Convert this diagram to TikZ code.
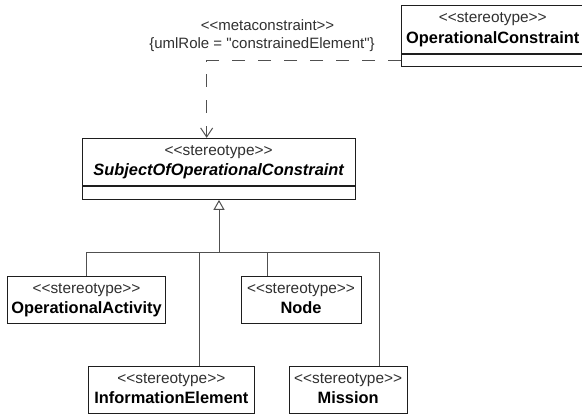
\documentclass[tikz,border=0pt]{standalone}
\usepackage{fontspec}
\setmainfont{Liberation Sans}[Ligatures=TeXOff]
\usepackage{tikz}
\usetikzlibrary{arrows.meta,calc,positioning}
\definecolor{umlink}{HTML}{1E1E1E}
\definecolor{umlline}{HTML}{505050}
\definecolor{umlstereo}{HTML}{303030}
\newcommand{\stereo}[1]{{\color{umlstereo}\fontsize{15.4}{20.5}\selectfont <{}<#1>{}>}}
\newcommand{\umlname}[1]{{\bfseries\fontsize{16.4}{20.5}\selectfont\vphantom{Oy}#1}}

\begin{document}
\begin{tikzpicture}[x=1pt,y=-1pt,
  umlbox/.style={draw=umlink,line width=1pt,fill=white,inner sep=0pt,
    minimum height=47.5pt,align=center,font=\fontsize{15}{20.5}\selectfont},
  umlbar/.style={draw=umlink,line width=1pt,fill=white,inner sep=0pt,
    minimum height=12.5pt},
  genflow/.style={draw=umlline,line width=1pt},
  genhead/.style={genflow,-{Triangle[open,length=10pt,width=11pt]}},
  metaflow/.style={draw=umlline,line width=1pt,dash pattern=on 13pt off 13pt,
    -{Straight Barb[length=9pt,width=12pt]}},
  umllabel/.style={inner sep=0pt,text=umlstereo,font=\fontsize{15}{18}\selectfont}
]
  \useasboundingbox (0,0) rectangle (582,415);

  % constraint stereotype, top right
  \node[umlbox,minimum width=182.5pt] (opcon) at (492.75,29.65)
    {\stereo{stereotype}\\\umlname{OperationalConstraint}};
  \node[umlbar,minimum width=182.5pt,below=0pt of opcon] (opconbar) {};

  % constrained subject
  \node[umlbox,minimum width=272.7pt] (subj) at (218.65,162.1)
    {\stereo{stereotype}\\\umlname{\itshape SubjectOfOperationalConstraint}};
  \node[umlbar,minimum width=272.7pt,below=0pt of subj] (subjbar) {};

  % metaconstraint labels
  \node[umllabel] (metalabel) at (267.5,25) {<{}<metaconstraint>{}>};
  \node[umllabel] (rolelabel) at (262,44.3)
    {\{umlRole = "constrainedElement"\}};
  \draw[metaflow] (opconbar.west) -| ([xshift=-12pt]subj.north);

  % specialisations
  \node[umlbox,minimum width=158.4pt] (activity) at (86.5,300)
    {\stereo{stereotype}\\\umlname{OperationalActivity}};
  \node[umlbox,minimum width=120pt] (noderole) at (301,300)
    {\stereo{stereotype}\\\umlname{Node}};
  \node[umlbox,minimum width=166.7pt,minimum height=46.6pt] (infoel)
    at (171.35,390) {\stereo{stereotype}\\\umlname{InformationElement}};
  \node[umlbox,minimum width=118.3pt,minimum height=46.6pt] (mission)
    at (348.15,390) {\stereo{stereotype}\\\umlname{Mission}};

  \coordinate (bus) at (219,252.5);
  \draw[genflow] (activity.north) |- (bus);
  \draw[genflow] ([xshift=27.65pt]infoel.north) |- (bus);
  \draw[genflow] ([xshift=-33.3pt]noderole.north) |- (bus);
  \draw[genflow] ([xshift=31.15pt]mission.north) |- (bus);
  \draw[genhead] (bus) -- (bus |- subjbar.south);
\end{tikzpicture}
\end{document}
